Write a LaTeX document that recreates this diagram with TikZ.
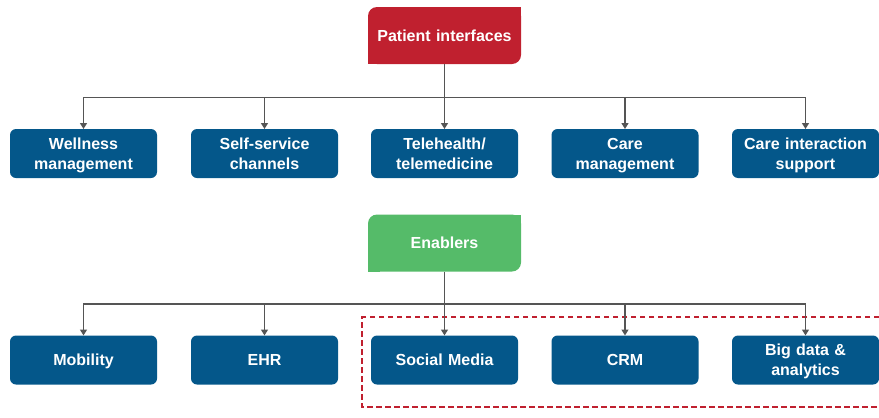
\documentclass[tikz,border=0pt]{standalone}
\usepackage{fontspec}
\setmainfont{Liberation Sans}
\usetikzlibrary{arrows.meta,backgrounds}
\definecolor{hubred}{HTML}{C0202F}
\definecolor{hubgreen}{HTML}{55BB69}
\definecolor{leafblue}{HTML}{04578A}
\definecolor{linkgray}{HTML}{555555}
\tikzset{
  boxtext/.style={text=white, font=\fontsize{16}{20}\selectfont\bfseries,
    inner sep=0pt, outer sep=0pt, align=center, text height=11.5pt},
  leaf/.style={boxtext, fill=leafblue, rounded corners=6pt, text width=147pt,
    minimum width=147pt, minimum height=49pt},
  leafone/.style={leaf, text depth=-2pt},
  leaftwo/.style={leaf, text depth=19.8pt},
  hub/.style={boxtext, rounded corners=9pt, text width=153pt,
    minimum width=153pt, minimum height=57pt, text depth=0pt},
  link/.style={draw=linkgray, line width=1.4pt},
  linkarrow/.style={link, -{Triangle[length=6pt,width=7pt]}},
  focus/.style={draw=hubred, line width=1.1pt, dash pattern=on 5.5pt off 3.5pt}
}
\begin{document}
\begin{tikzpicture}[x=1pt, y=-1pt]
\useasboundingbox (0,0) rectangle (879,418);

% top hub: rounded top-left and bottom-right corners only
\node[hub, fill=hubred] (pi) at (444.5,35.5) {Patient interfaces};
\begin{pgfonlayer}{background}
  \fill[hubred] (pi.north east) rectangle ++(-12,12);
  \fill[hubred] (pi.south west) rectangle ++(12,-12);
\end{pgfonlayer}

% first row of leaves
\node[leaftwo] (wm) at (83.5,153.5) {Wellness\\management};
\node[leaftwo] (ss) at (264.5,153.5) {Self-service\\channels};
\node[leaftwo] (th) at (444.5,153.5) {Telehealth/\\telemedicine};
\node[leaftwo] (cm) at (625,153.5) {Care\\management};
\node[leaftwo] (ci) at (805.5,153.5) {Care interaction\\support};

% second hub
\node[hub, fill=hubgreen] (en) at (444.5,243) {Enablers};
\begin{pgfonlayer}{background}
  \fill[hubgreen] (en.north east) rectangle ++(-12,12);
  \fill[hubgreen] (en.south west) rectangle ++(12,-12);
\end{pgfonlayer}

% second row of leaves
\node[leafone] (mo) at (83.5,360) {Mobility};
\node[leafone] (eh) at (264.5,360) {EHR};
\node[leafone] (sm) at (444.5,360) {Social Media};
\node[leafone] (cr) at (625,360) {CRM};
\node[leaftwo] (bd) at (805.5,360) {Big data \&\\analytics};

% highlighted group (open to the right edge)
\draw[focus] (879,317) -- (362,317) -- (362,407) -- (879,407);

% distribution buses
\coordinate (busA) at (444.5,97.5);
\coordinate (busB) at (444.5,304);
\draw[link] (pi.south) -- (busA);
\draw[link] (en.south) -- (busB);
\foreach \n in {wm,ss,th,cm,ci}{ \draw[linkarrow] (busA) -| (\n.north); }
\foreach \n in {mo,eh,sm,cr,bd}{ \draw[linkarrow] (busB) -| (\n.north); }
\end{tikzpicture}
\end{document}
